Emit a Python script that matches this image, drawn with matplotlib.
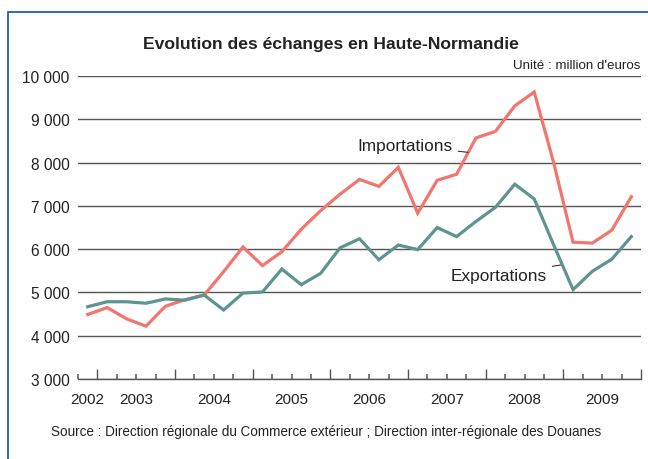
import numpy as np
import matplotlib.pyplot as plt
from matplotlib.patches import Rectangle

# quarterly trade values, Q4 2002 -> Q4 2009 (million euros)
importations = [4490, 4650, 4390, 4220, 4680, 4830, 4940, 5480, 6050, 5620,
                5940, 6460, 6890, 7270, 7610, 7450, 7890, 6830, 7590, 7730,
                8570, 8720, 9310, 9630, 8000, 6160, 6140, 6440, 7210]
exportations = [4670, 4785, 4785, 4750, 4850, 4820, 4940, 4595, 4985, 5010,
                5540, 5180, 5440, 6030, 6240, 5755, 6095, 5990, 6500, 6290,
                6640, 6965, 7500, 7160, 6100, 5065, 5490, 5770, 6290]
years = ['2002', '2003', '2004', '2005', '2006', '2007', '2008', '2009']
year_pos = [0, 2.5, 6.5, 10.5, 14.5, 18.5, 22.5, 26.5]
yticks = [3000, 4000, 5000, 6000, 7000, 8000, 9000, 10000]

plt.rcParams['font.family'] = ['Liberation Sans', 'DejaVu Sans']

red = '#f2756e'
green = '#5e948e'
grid_c = '#555555'
txt_c = '#222222'

fig = plt.figure(figsize=(6.48, 4.6), dpi=100)
ax = fig.add_axes([78/648, 80/460, 563/648, 303/460])

x = np.arange(len(importations))
ax.plot(x, importations, color=red, lw=2.3, solid_joinstyle='miter')
ax.plot(x, exportations, color=green, lw=2.3, solid_joinstyle='miter')

ax.set_xlim(-0.5, len(x) - 0.5)
ax.set_ylim(3000, 10000)
ax.set_yticks(yticks)
ax.set_yticklabels([f'{v:,}'.replace(',', ' ') for v in yticks],
                   fontsize=11.2, color=txt_c)
ax.yaxis.grid(True, color=grid_c, lw=1)
ax.set_axisbelow(True)
ax.tick_params(axis='y', length=0, pad=6)

# quarter boundaries: long marks at year changes, short ones otherwise
bounds = np.arange(-0.5, len(x), 1.0)
major = bounds[(bounds - 0.5) % 4 == 0]
ax.set_xticks(major)
ax.set_xticks(bounds, minor=True)
ax.set_xticklabels([])
ax.tick_params(axis='x', which='major', direction='in', length=7, width=1, color=grid_c)
ax.tick_params(axis='x', which='minor', direction='in', length=3.5, width=1.1, color=grid_c)
for pos, yr in zip(year_pos, years):
    ax.text(pos, -0.042, yr, transform=ax.get_xaxis_transform(),
            ha='center', va='top', fontsize=11, color=txt_c)

for s in ['top', 'right', 'left']:
    ax.spines[s].set_visible(False)
ax.spines['bottom'].set_color(grid_c)
ax.spines['bottom'].set_linewidth(1)

ax.annotate('Importations', xy=(19.6, 8236), xytext=(18.8, 8400),
            ha='right', va='center', fontsize=12.4, color=txt_c,
            arrowprops=dict(arrowstyle='-', color='#333333', lw=0.8,
                            shrinkA=2, shrinkB=0))
ax.annotate('Exportations', xy=(24.35, 5633), xytext=(23.65, 5400),
            ha='right', va='center', fontsize=12.4, color=txt_c,
            arrowprops=dict(arrowstyle='-', color='#333333', lw=0.8,
                            shrinkA=2, shrinkB=0))

fig.text(331/648, 1 - 44/460, 'Evolution des échanges en Haute-Normandie',
         ha='center', va='center', fontsize=12.6, fontweight='bold', color=txt_c)
fig.text(640/648, 1 - 66/460, "Unité : million d'euros",
         ha='right', va='center', fontsize=9.6, color=txt_c)
fig.text(326/648, 1 - 432/460,
         'Source : Direction régionale du Commerce extérieur ; Direction inter-régionale des Douanes',
         ha='center', va='center', fontsize=9.75, color=txt_c)

fig.patches.append(Rectangle((8/648, -0.05), 1.0, 1 - 12.5/460 + 0.05,
                             transform=fig.transFigure, fill=False,
                             edgecolor='#1f5fae', lw=1.3))

fig.savefig('out.png', dpi=100)
